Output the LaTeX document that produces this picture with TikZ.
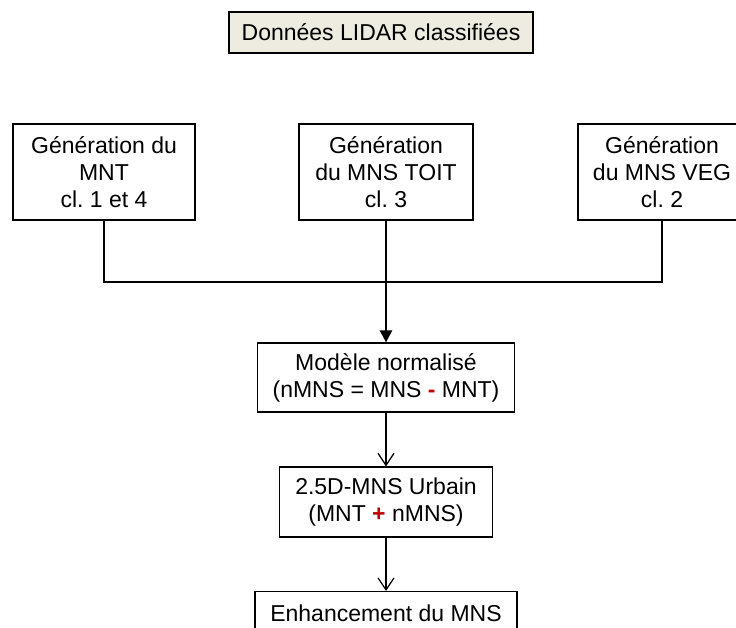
\documentclass[tikz,border=0pt]{standalone}
\usepackage{fontspec}
\setmainfont{Liberation Sans}
\usetikzlibrary{arrows.meta}
\definecolor{tanbg}{HTML}{EEECE1}
\definecolor{dred}{HTML}{C00000}
\begin{document}
\begin{tikzpicture}[x=1pt,y=-1pt,
  box/.style={draw=black, line width=1.2pt, align=center, inner sep=0pt,
              font=\fontsize{23}{27}\selectfont},
  conn/.style={draw=black, line width=1.2pt},
  thickarrow/.style={draw=black, line width=2.4pt, -{Triangle[length=12pt,width=12pt]}},
  thinarrow/.style={draw=black, line width=1.2pt, -{Straight Barb[length=12pt,width=16pt]}}]
\useasboundingbox (0,0) rectangle (736,628);
\node[box, fill=tanbg, line width=1.6pt, minimum width=304pt, minimum height=41pt] (lidar) at (381,32.5) {Données LIDAR classifiées};
\node[box, minimum width=182pt, minimum height=96pt] (b1) at (104,172) {Génération du\\MNT\\cl.\ 1 et 4};
\node[box, minimum width=174pt, minimum height=96pt] (b2) at (386,172) {Génération\\du MNS TOIT\\cl.\ 3};
\node[box, minimum width=168pt, minimum height=96pt] (b3) at (662,172) {Génération\\du MNS VEG\\cl.\ 2};
\coordinate (j) at (386,282);
\node[box, minimum width=257pt, minimum height=69pt] (m) at (386,377.5) {Modèle normalisé\\(nMNS = MNS {\color{dred}\textbf{-}} MNT)};
\node[box, minimum width=213pt, minimum height=70pt] (u) at (386,502) {2.5D-MNS Urbain\\(MNT {\color{dred}\textbf{+}} nMNS)};
\node[box, minimum width=262pt, anchor=north, text height=30pt, text depth=40pt] (e) at (386,591) {Enhancement du MNS};
\draw[conn] (b1.south) |- (j);
\draw[conn] (b3.south) |- (j);
\draw[conn] (b2.south) -- (j);
\draw[thickarrow] (j) -- (m.north);
\draw[thinarrow] (m.south) -- (u.north);
\draw[thinarrow] (u.south) -- (e.north);
\end{tikzpicture}
\end{document}
